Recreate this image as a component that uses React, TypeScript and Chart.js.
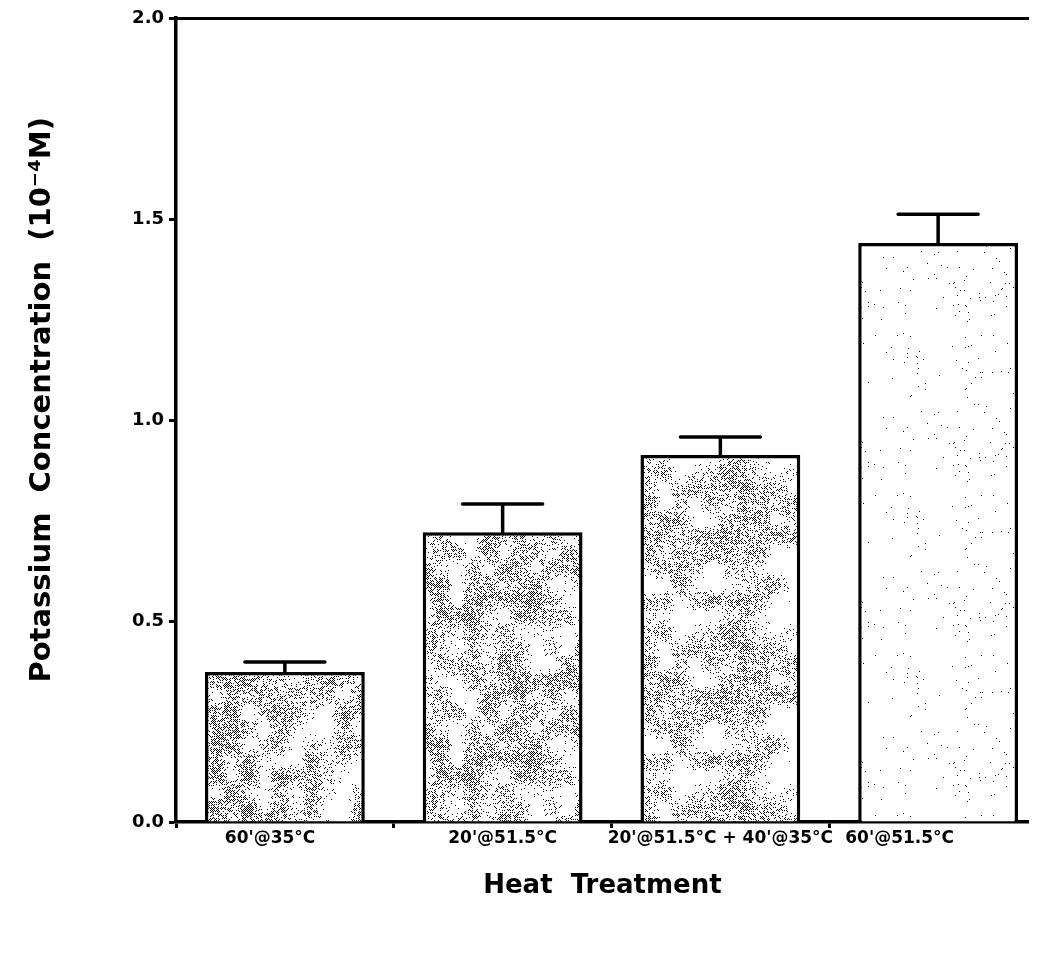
import React, { useEffect, useRef } from "react";
import { Chart, registerables } from "chart.js";

Chart.register(...registerables);

// ---- data ----
const categories = ["60'@35°C", "20'@51.5°C", "20'@51.5°C + 40'@35°C", "60'@51.5°C"];
const means = [0.373, 0.721, 0.913, 1.44];
const errorTops = [0.398, 0.791, 0.958, 1.512];
const yTickValues = [0, 0.5, 1.0, 1.5, 2.0];
const yTitle = "Potassium  Concentration  (10⁻⁴M)";
const xTitle = "Heat  Treatment";

// ---- style ----
const stippleDensity = [0.48, 0.44, 0.4, 0.014];
const labelTrailingSpaces = [5, 0, 0, 13];
const FONT = "'DejaVu Sans', 'Liberation Sans', Arial, sans-serif";

function makePattern(density: number, seed: number): CanvasPattern | string {
  const size = 160;
  const cell = 16;
  const c = document.createElement("canvas");
  c.width = size;
  c.height = size;
  const ctx = c.getContext("2d");
  if (!ctx) return "#ddd";
  ctx.fillStyle = "#fff";
  ctx.fillRect(0, 0, size, size);
  ctx.fillStyle = "#000";
  let s = seed * 7919 + 17;
  const rnd = () => {
    s = (s * 1103515245 + 12345) & 0x7fffffff;
    return s / 0x7fffffff;
  };
  // coarse texture grid (tileable) for blotchy stipple
  const n = size / cell;
  const grid: number[][] = [];
  for (let j = 0; j < n; j++) {
    grid.push([]);
    for (let i = 0; i < n; i++) grid[j].push(rnd());
  }
  const smooth = (t: number) => t * t * (3 - 2 * t);
  for (let y = 0; y < size; y++) {
    for (let x = 0; x < size; x++) {
      if ((x + y) % 2 !== 0) continue;
      const gx = x / cell;
      const gy = y / cell;
      const i0 = Math.floor(gx) % n;
      const j0 = Math.floor(gy) % n;
      const i1 = (i0 + 1) % n;
      const j1 = (j0 + 1) % n;
      const tx = smooth(gx - Math.floor(gx));
      const ty = smooth(gy - Math.floor(gy));
      const v =
        grid[j0][i0] * (1 - tx) * (1 - ty) +
        grid[j0][i1] * tx * (1 - ty) +
        grid[j1][i0] * (1 - tx) * ty +
        grid[j1][i1] * tx * ty;
      const blob = Math.max(0, Math.min(1.6, (v - 0.15) * 2));
      if (rnd() < density * blob) ctx.fillRect(x, y, 1, 1);
    }
  }
  const p = ctx.createPattern(c, "repeat");
  return p || "#ddd";
}

const errorBarPlugin = {
  id: "errorBars",
  afterDatasetsDraw(chart: any) {
    const meta = chart.getDatasetMeta(0);
    const yScale = chart.scales.y;
    const ctx = chart.ctx;
    ctx.save();
    ctx.strokeStyle = "#000";
    ctx.lineWidth = 3.5;
    ctx.lineCap = "round";
    meta.data.forEach((el: any, i: number) => {
      const x = el.x;
      const yBar = el.y;
      const yErr = yScale.getPixelForValue(errorTops[i]);
      ctx.beginPath();
      ctx.moveTo(x, yBar);
      ctx.lineTo(x, yErr);
      ctx.moveTo(x - 40, yErr);
      ctx.lineTo(x + 40, yErr);
      ctx.stroke();
    });
    ctx.restore();
  },
};

export default function App() {
  const ref = useRef<HTMLCanvasElement | null>(null);

  useEffect(() => {
    if (!ref.current) return;
    const patterns = stippleDensity.map((d, i) => makePattern(d, i + 1));
    const chart = new Chart(ref.current, {
      type: "bar",
      data: {
        labels: categories,
        datasets: [
          {
            data: means,
            backgroundColor: patterns as any,
            borderColor: "#000",
            borderWidth: 3.5,
            borderSkipped: "bottom",
            barPercentage: 0.734,
            categoryPercentage: 1,
          },
        ],
      },
      options: {
        responsive: false,
        animation: false,
        layout: { padding: { top: 10, right: 7, bottom: 0, left: 0 } },
        plugins: {
          legend: { display: false },
          tooltip: { enabled: false },
        },
        scales: {
          x: {
            type: "category",
            offset: true,
            grid: {
              display: true,
              drawOnChartArea: false,
              offset: true,
              tickLength: 6,
              tickWidth: 3,
              tickColor: "#000",
              color: "#000",
            },
            border: { display: true, color: "#000", width: 3.5 },
            ticks: {
              callback: (_v: any, i: number) =>
                categories[i] + "\u00a0".repeat(labelTrailingSpaces[i] || 0),
              font: { family: FONT, weight: "bold", size: 17 },
              color: "#000",
              padding: 0,
              maxRotation: 0,
              autoSkip: false,
            },
            title: {
              display: true,
              text: xTitle + "\u00a0\u00a0",
              font: { family: FONT, weight: "bold", size: 26 },
              color: "#000",
              padding: { top: 0, bottom: 44 },
            },
            afterFit: (s: any) => {
              s.height = 124;
              s.paddingLeft = 0;
              s.paddingRight = 0;
            },
          },
          x2: {
            type: "category",
            position: "top",
            labels: categories,
            offset: true,
            grid: { display: false },
            ticks: { display: false },
            border: { display: true, color: "#000", width: 3 },
            afterFit: (s: any) => {
              s.height = 0;
              s.paddingLeft = 0;
              s.paddingRight = 0;
            },
          },
          y: {
            min: 0,
            max: 2,
            afterBuildTicks: (s: any) => {
              s.ticks = yTickValues.map((v) => ({ value: v }));
            },
            ticks: {
              callback: (v: any) => Number(v).toFixed(1),
              font: { family: FONT, weight: "bold", size: 18, lineHeight: 1 },
              color: "#000",
              padding: 5,
            },
            grid: {
              drawOnChartArea: false,
              tickLength: 7,
              tickWidth: 3,
              tickColor: "#000",
              color: "#000",
            },
            border: { display: true, color: "#000", width: 3.5 },
            title: {
              display: true,
              text: "\u00a0\u00a0\u00a0\u00a0" + yTitle,
              font: { family: FONT, weight: "bold", size: 29 },
              color: "#000",
              padding: { top: 17, bottom: 0 },
            },
            afterFit: (s: any) => {
              s.width = 168;
              s.paddingTop = 0;
              s.paddingBottom = 0;
            },
          },
        },
      },
      plugins: [errorBarPlugin],
    } as any);
    return () => chart.destroy();
  }, []);

  return (
    <div style={{ width: 1029, height: 938, overflow: "hidden", background: "#fff" }}>
      <canvas ref={ref} width={1046} height={938} style={{ width: 1046, height: 938, display: "block" }} />
    </div>
  );
}
